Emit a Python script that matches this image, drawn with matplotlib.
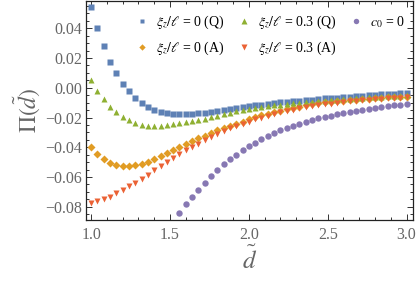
import numpy as np
import matplotlib
matplotlib.use("Agg")
import matplotlib.pyplot as plt
from matplotlib.ticker import MultipleLocator

plt.rcParams['font.family'] = ['Liberation Serif', 'DejaVu Serif']
plt.rcParams['mathtext.fontset'] = 'stix'

d = [round(1.0 + 0.04 * i, 2) for i in range(51)]

pi_q0 = [0.0543, 0.0400, 0.0281, 0.0176, 0.0098, 0.0027, -0.0025, -0.0067, -0.0105, -0.0130,
         -0.0148, -0.0162, -0.0173, -0.0178, -0.0179, -0.0178, -0.0175, -0.0172, -0.0168, -0.0163,
         -0.0157, -0.0151, -0.0144, -0.0137, -0.0131, -0.0125, -0.0119, -0.0114, -0.0108, -0.0103,
         -0.0099, -0.0095, -0.0091, -0.0087, -0.0083, -0.0079, -0.0076, -0.0072, -0.0069, -0.0066,
         -0.0063, -0.0060, -0.0057, -0.0054, -0.0051, -0.0048, -0.0045, -0.0042, -0.0039, -0.0036,
         -0.0033]

pi_q03 = [0.0049, -0.0020, -0.0078, -0.0127, -0.0163, -0.0194, -0.0219, -0.0238, -0.0249, -0.0255,
          -0.0257, -0.0256, -0.0252, -0.0246, -0.0240, -0.0233, -0.0225, -0.0217, -0.0207, -0.0197,
          -0.0187, -0.0177, -0.0168, -0.0159, -0.0151, -0.0143, -0.0136, -0.0130, -0.0124, -0.0119,
          -0.0114, -0.0110, -0.0105, -0.0101, -0.0097, -0.0093, -0.0089, -0.0086, -0.0082, -0.0079,
          -0.0076, -0.0073, -0.0070, -0.0067, -0.0065, -0.0062, -0.0060, -0.0057, -0.0055, -0.0053,
          -0.0050]

pi_a0 = [-0.0398, -0.0447, -0.0480, -0.0505, -0.0519, -0.0525, -0.0525, -0.0519, -0.0510, -0.0496,
         -0.0478, -0.0457, -0.0436, -0.0417, -0.0396, -0.0378, -0.0359, -0.0340, -0.0322, -0.0304,
         -0.0287, -0.0270, -0.0255, -0.0241, -0.0228, -0.0213, -0.0199, -0.0186, -0.0174, -0.0163,
         -0.0153, -0.0143, -0.0134, -0.0126, -0.0118, -0.0111, -0.0105, -0.0099, -0.0094, -0.0090,
         -0.0086, -0.0082, -0.0079, -0.0076, -0.0073, -0.0070, -0.0068, -0.0065, -0.0063, -0.0061,
         -0.0059]

pi_a03 = [-0.0777, -0.0764, -0.0749, -0.0731, -0.0710, -0.0687, -0.0663, -0.0638, -0.0611, -0.0583,
          -0.0555, -0.0526, -0.0497, -0.0470, -0.0444, -0.0420, -0.0397, -0.0375, -0.0352, -0.0330,
          -0.0310, -0.0291, -0.0273, -0.0257, -0.0241, -0.0227, -0.0213, -0.0200, -0.0188, -0.0177,
          -0.0166, -0.0156, -0.0147, -0.0139, -0.0131, -0.0124, -0.0117, -0.0111, -0.0106, -0.0101,
          -0.0096, -0.0092, -0.0088, -0.0084, -0.0081, -0.0078, -0.0075, -0.0072, -0.0070, -0.0067,
          -0.0065]

d_c0 = d[14:]
pi_c0 = [-0.0840, -0.0782, -0.0733, -0.0684, -0.0637, -0.0592, -0.0552, -0.0514, -0.0480, -0.0449,
         -0.0420, -0.0392, -0.0368, -0.0344, -0.0323, -0.0304, -0.0286, -0.0269, -0.0255, -0.0241,
         -0.0228, -0.0217, -0.0206, -0.0196, -0.0187, -0.0178, -0.0170, -0.0162, -0.0155, -0.0148,
         -0.0142, -0.0136, -0.0130, -0.0124, -0.0119, -0.0114, -0.0109]

labels = [r'$\xi_z/\ell$ = 0 (Q)', r'$\xi_z/\ell$ = 0 (A)', r'$\xi_z/\ell$ = 0.3 (Q)',
          r'$\xi_z/\ell$ = 0.3 (A)', r'$c_0$ = 0']

c_blue, c_orange, c_green, c_red, c_purple = '#5E81B5', '#E19C24', '#8FB032', '#EB6235', '#8778B3'

fig = plt.figure(figsize=(4.2, 2.81), dpi=100)
ax = fig.add_axes([0.205, 0.218, 0.778, 0.78])

h1, = ax.plot(d, pi_q0, 's', color=c_blue, ms=4.2, mec='none', label=labels[0])
h2, = ax.plot(d, pi_a0, 'D', color=c_orange, ms=3.8, mec='none', label=labels[1])
h3, = ax.plot(d, pi_q03, '^', color=c_green, ms=4.8, mec='none', label=labels[2])
h4, = ax.plot(d, pi_a03, 'v', color=c_red, ms=4.8, mec='none', label=labels[3])
h5, = ax.plot(d_c0, pi_c0, 'o', color=c_purple, ms=4.6, mec='none', label=labels[4])

ax.set_xlim(0.968, 3.04)
ax.set_ylim(-0.0887, 0.0586)
ax.xaxis.set_major_locator(MultipleLocator(0.5))
ax.xaxis.set_minor_locator(MultipleLocator(0.1))
ax.yaxis.set_major_locator(MultipleLocator(0.02))
ax.yaxis.set_minor_locator(MultipleLocator(0.005))
ax.xaxis.set_major_formatter(matplotlib.ticker.FuncFormatter(lambda v, p: f'{v:.1f}'))
ax.yaxis.set_major_formatter(matplotlib.ticker.FuncFormatter(
    lambda v, p: ('\u2212' + f'{abs(v):.2f}') if v < -1e-9 else f'{abs(v):.2f}'))

gray = '#666666'
ax.tick_params(which='both', direction='in', top=True, right=True, colors='#333333',
               labelcolor=gray, labelsize=11.5, width=0.7)
ax.tick_params(which='major', length=4)
ax.tick_params(which='minor', length=2.3)
ax.tick_params(axis='x', pad=5)
ax.tick_params(axis='y', pad=3)
for s in ax.spines.values():
    s.set_linewidth(0.9)
    s.set_color('#222222')

ax.set_xlabel(r'$\tilde{d}$', fontsize=18, color=gray, labelpad=2)
ax.set_ylabel(r'$\Pi(\tilde{d})$', fontsize=17, color=gray, labelpad=2)

leg = ax.legend(handles=[h1, h2, h3, h4, h5], ncol=3, loc='upper right',
                bbox_to_anchor=(0.975, 0.938), frameon=False, fontsize=10,
                handlelength=0.8, handletextpad=0.6, columnspacing=1.0,
                labelspacing=0.62, borderaxespad=0.0, borderpad=0.0, markerscale=0.85)

fig.savefig('out.png', dpi=100)
